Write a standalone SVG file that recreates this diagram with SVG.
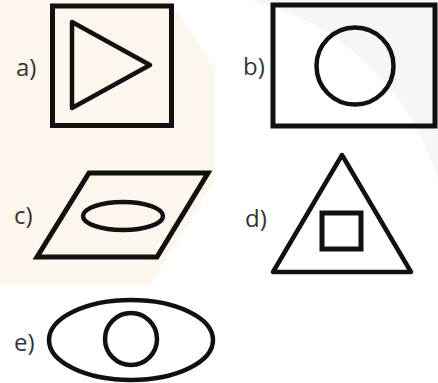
<svg xmlns="http://www.w3.org/2000/svg" width="438" height="383" viewBox="0 0 438 383">
<style>
.s{fill:none;stroke:#111;stroke-width:5;stroke-linejoin:miter}
.t{fill:none;stroke:#111;stroke-width:4.5;stroke-linejoin:round}
.lbl{font-family:"Open Sans","Liberation Sans",sans-serif;font-size:24px;fill:#333}
</style>
<rect width="438" height="383" fill="#fff"/>
<g id="watermark" opacity="0.6">
<polygon points="0,0 170,0 215,70 215,180 150,285 0,285" fill="#fdf1e2"/>
<path d="M250,0 A260,260 0 0 1 438,180 L438,0 Z" fill="#eef2f8"/>
</g>
<g id="a">
<text class="lbl" x="16" y="76">a)</text>
<rect class="s" x="52.5" y="6" width="119" height="119.5"/>
<polygon class="t" points="72,22 72,108 150,65"/>
</g>
<g id="b">
<text class="lbl" x="243" y="75">b)</text>
<rect class="s" x="273" y="5" width="162" height="121"/>
<circle class="t" cx="355" cy="66" r="38.5"/>
</g>
<g id="c">
<text class="lbl" x="14" y="224">c)</text>
<polygon class="s" points="89,173 208,173 157,257 37,257"/>
<ellipse class="t" cx="123" cy="216" rx="40" ry="14"/>
</g>
<g id="d">
<text class="lbl" x="245" y="227">d)</text>
<polygon class="t" points="342,155 273,272 411,272"/>
<rect class="s" x="322" y="213" width="39" height="36"/>
</g>
<g id="e">
<text class="lbl" x="14" y="351">e)</text>
<ellipse class="t" cx="131" cy="340" rx="82" ry="40"/>
<circle class="t" cx="131" cy="339" r="26"/>
</g>
<g id="connectors"/>
</svg>
